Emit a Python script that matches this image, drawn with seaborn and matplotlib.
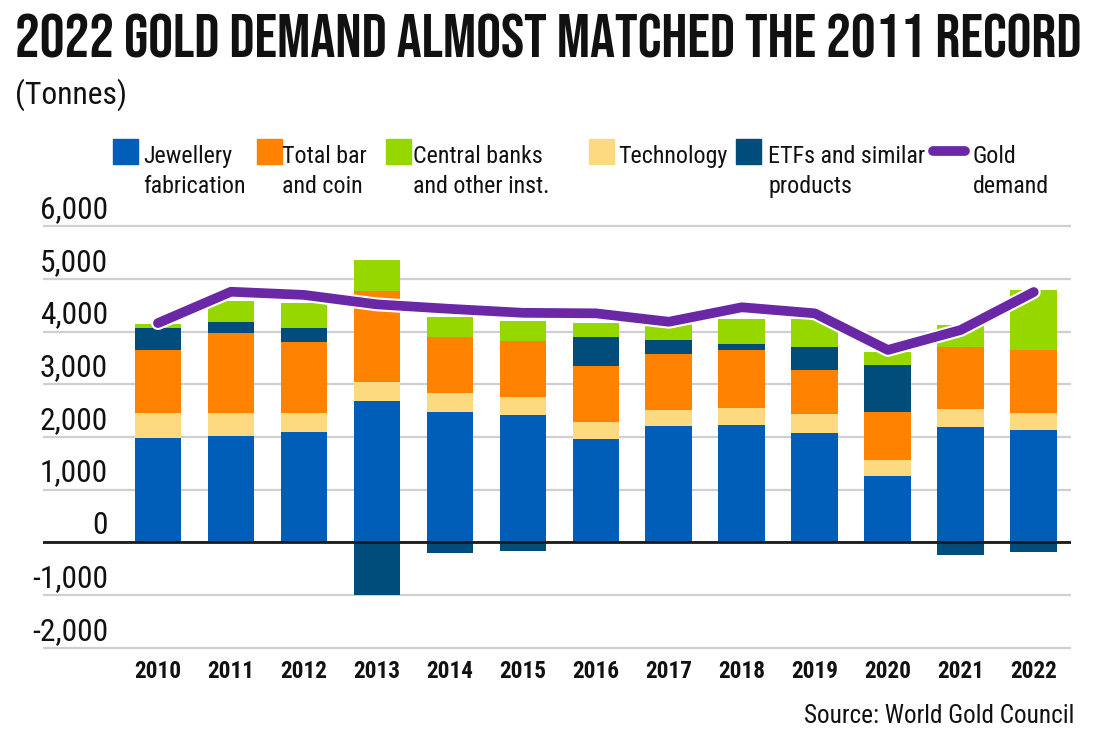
import matplotlib
matplotlib.use("Agg")
import matplotlib.pyplot as plt
import matplotlib.patheffects as pe
from matplotlib import font_manager
from matplotlib.patches import Rectangle
from matplotlib.lines import Line2D
from matplotlib.transforms import ScaledTranslation
import numpy as np
import pandas as pd
import seaborn as sns

# values (tonnes)
years = ["2010", "2011", "2012", "2013", "2014", "2015", "2016",
         "2017", "2018", "2019", "2020", "2021", "2022"]
jewellery = [1975, 2015, 2085, 2680, 2465, 2415, 1965, 2205, 2225, 2080, 1265, 2195, 2125]
technology = [475, 430, 360, 365, 375, 335, 310, 300, 330, 350, 300, 330, 325]
bar_coin = [1200, 1530, 1350, 1720, 1065, 1065, 1075, 1065, 1095, 840, 915, 1180, 1200]
etfs = [410, 210, 275, -1000, -195, -170, 540, 265, 110, 435, 885, -245, -185]
central_banks = [80, 400, 475, 590, 365, 380, 275, 310, 475, 525, 240, 410, 1140]
gold_demand = [4160, 4755, 4695, 4515, 4430, 4355, 4345, 4185, 4460, 4345, 3650, 4030, 4750]

legend_labels = ["Jewellery\nfabrication", "Total bar\nand coin", "Central banks\nand other inst.",
                 "Technology", "ETFs and similar\nproducts", "Gold\ndemand"]

blue = "#005EB8"
orange = "#FF8200"
green = "#97D700"
tech_col = "#FDDA80"
etf_col = "#004C7A"
purple = "#6A28A6"
ink = "#111111"


def pick_font(names):
    for n in names:
        try:
            font_manager.findfont(font_manager.FontProperties(family=n), fallback_to_default=False)
            return n
        except ValueError:
            pass
    return "DejaVu Sans"


body = pick_font(["Roboto Condensed", "Barlow Condensed", "Archivo Narrow", "Asap Condensed",
                  "Liberation Sans Narrow", "Liberation Sans"])
head = pick_font(["Bebas Neue", "Oswald", "Barlow Condensed", "Roboto Condensed", "Archivo Narrow"])

sns.set_theme(style="white")
plt.rcParams["font.family"] = [body, "DejaVu Sans"]

df = pd.DataFrame({"year": years, "jewellery": jewellery, "technology": technology,
                   "bar_coin": bar_coin, "etfs": etfs, "central_banks": central_banks,
                   "gold_demand": gold_demand})
x = np.arange(len(df))

W, H = 1100, 740
fig = plt.figure(figsize=(11, 7.4), dpi=100)
renderer = fig.canvas.get_renderer()


def fit_size(text, width, **kw):
    # font size that makes `text` about `width` pixels wide
    t = fig.text(0, 0, text, fontsize=20, **kw)
    w = t.get_window_extent(renderer).width
    t.remove()
    return 20 * width / w


ax = fig.add_axes([43 / W, 1 - 650.3 / H, (1071 - 43) / W, (650.3 - 223.5) / H])

bw = 0.64
bottom = np.zeros(len(df))
for col, c in [("jewellery", blue), ("technology", tech_col), ("bar_coin", orange)]:
    ax.bar(x, df[col], bw, bottom=bottom, color=c, linewidth=0, zorder=2)
    bottom += df[col].values

etf = df["etfs"].values
ax.bar(x, etf, bw, bottom=np.where(etf > 0, bottom, 0), color=etf_col, linewidth=0, zorder=2)
bottom += np.clip(etf, 0, None)
ax.bar(x, df["central_banks"], bw, bottom=bottom, color=green, linewidth=0, zorder=2)

sns.lineplot(x=x, y=df["gold_demand"], ax=ax, color=purple, lw=7, zorder=4,
             solid_capstyle="round", solid_joinstyle="round",
             path_effects=[pe.Stroke(linewidth=10, foreground="white"), pe.Normal()])

ax.axhline(0, color="#1a1a1a", lw=2, zorder=3)

ax.set_xlim(-1.575, 12.51)
ax.set_ylim(-2050, 6050)
yticks = list(range(-2000, 6001, 1000))
ax.set_yticks(yticks)
ax.set_yticklabels([])
ax.yaxis.grid(True, color="#cfcfcf", lw=1.6)
ax.xaxis.grid(False)
ax.set_axisbelow(True)
for s in ax.spines.values():
    s.set_visible(False)
ax.tick_params(axis="both", length=0)
ax.tick_params(axis="x", pad=7)
ax.set_xticks(x)
xfs = fit_size("2017", 47, fontweight="bold")
ax.set_xticklabels(years, fontsize=xfs, fontweight="bold", color=ink)
ax.set_xlabel("")
ax.set_ylabel("")

yfs = fit_size("5,000", 68)
lab_tr = ax.get_yaxis_transform() + ScaledTranslation(0, 8 / 100, fig.dpi_scale_trans)
for v in yticks:
    ax.text((108 - 43) / (1071 - 43), v, f"{v:,}", transform=lab_tr, ha="right",
            va="baseline", fontsize=yfs, color=ink)

ttl = "2022 GOLD DEMAND ALMOST MATCHED THE 2011 RECORD"
tfs = fit_size(ttl, 1068, fontweight="bold", family=[head, "DejaVu Sans"])
fig.text(15 / W, 1 - 57 / H, ttl, fontsize=tfs, fontweight="bold", family=[head, "DejaVu Sans"],
         ha="left", va="baseline", color=ink)

fig.text(15 / W, 1 - 104 / H, "(Tonnes)", fontsize=fit_size("(Tonnes)", 112), ha="left",
         va="baseline", color=ink)
src = "Source: World Gold Council"
fig.text(1074 / W, 1 - 723 / H, src, fontsize=fit_size(src, 270), ha="right",
         va="baseline", color=ink)

# legend
lfs = fit_size("Jewellery", 89)
sq_x = [113, 257, 386, 589, 736]
txt_x = [143, 282, 413, 618, 768]
sq_cols = [blue, orange, green, tech_col, etf_col]
for sx, tx, c, lab in zip(sq_x, txt_x, sq_cols, legend_labels[:5]):
    fig.add_artist(Rectangle((sx / W, 1 - 164 / H), 25 / W, 25 / H, color=c,
                             transform=fig.transFigure))
    for i, line in enumerate(lab.split("\n")):
        fig.text(tx / W, 1 - (163 + 30 * i) / H, line, fontsize=lfs, ha="left",
                 va="baseline", color=ink)
fig.add_artist(Line2D([933 / W, 965 / W], [1 - 151 / H, 1 - 151 / H], color=purple, lw=7,
                      solid_capstyle="round", transform=fig.transFigure))
for i, line in enumerate(legend_labels[5].split("\n")):
    fig.text(973 / W, 1 - (163 + 30 * i) / H, line, fontsize=lfs, ha="left",
             va="baseline", color=ink)

fig.savefig("out.png", dpi=100, facecolor="white")
